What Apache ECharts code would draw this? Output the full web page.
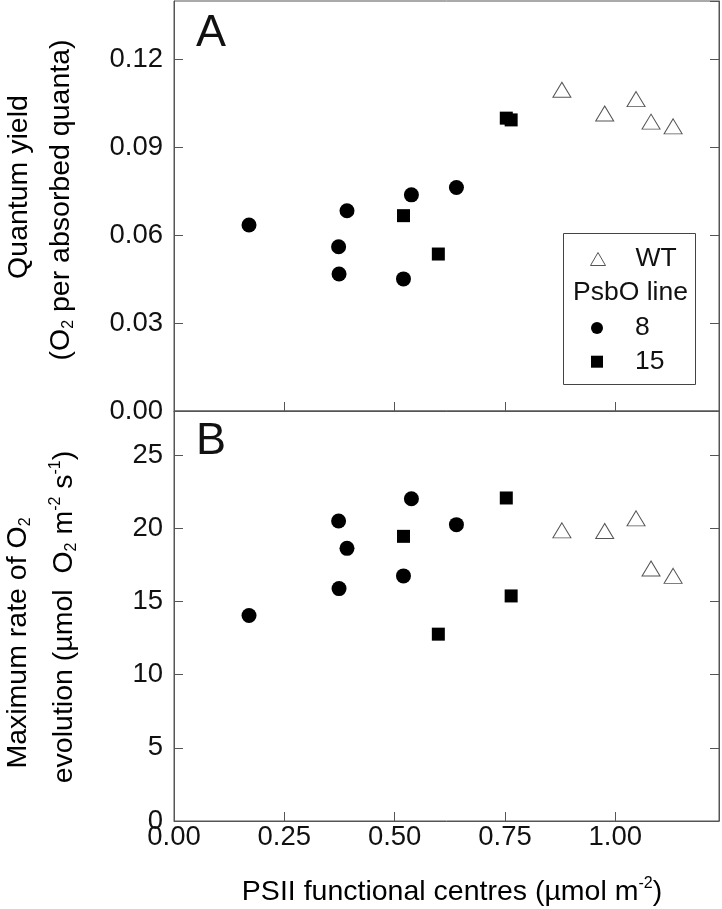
<!DOCTYPE html>
<html><head><meta charset="utf-8">
<script src="https://cdn.jsdelivr.net/npm/echarts@6/dist/echarts.min.js"></script>
<style>html,body{margin:0;padding:0;background:#fff}#c{width:722px;height:909px}</style>
</head><body><div id="c"></div>
<script>
// ---- data ----
const xTickLabels = ['0.00', '0.25', '0.50', '0.75', '1.00'];
const yTickLabelsA = ['0.00', '0.03', '0.06', '0.09', '0.12'];
const yTickLabelsB = ['0', '5', '10', '15', '20', '25'];

// PSII functional centres (µmol m-2)
const xWT = [0.879, 0.976, 1.047, 1.081, 1.131];
const x8  = [0.170, 0.373, 0.374, 0.392, 0.520, 0.538, 0.640];
const x15 = [0.520, 0.599, 0.753, 0.764];

// Panel A: quantum yield
const qyWT = [0.1097, 0.1016, 0.1065, 0.0988, 0.0972];
const qy8  = [0.0635, 0.0561, 0.0468, 0.0684, 0.0451, 0.0738, 0.0763];
const qy15 = [0.0667, 0.0536, 0.1000, 0.0994];

// Panel B: maximum rate of O2 evolution
const rateWT = [19.85, 19.80, 20.67, 17.24, 16.74];
const rate8  = [14.03, 20.49, 15.87, 18.62, 16.74, 22.01, 20.24];
const rate15 = [19.44, 12.76, 22.06, 15.37];

// ---- chart ----
const FONT = "'Liberation Sans', Arial, Helvetica, sans-serif";
const AX = '#555';
const TXT = '#111';
const zip = (xs, ys) => xs.map((x, i) => [x, ys[i]]);
const pick = (labels, step) => v => {
  const i = Math.round(v / step);
  return (Math.abs(v - i * step) < 1e-9 && labels[i] !== undefined) ? labels[i] : '';
};

const axisCommon = {
  axisLine: { show: true, lineStyle: { color: AX, width: 1 } },
  axisTick: { show: true, inside: true, length: 9, lineStyle: { color: AX, width: 1 } },
  splitLine: { show: false }
};
const labelStyle = { fontFamily: FONT, fontSize: 27.5, color: TXT };

const rich = {
  n: { fontFamily: FONT, fontSize: 28.5, color: TXT, lineHeight: 32 },
  sub: { fontFamily: FONT, fontSize: 16, color: TXT, lineHeight: 10, verticalAlign: 'bottom' },
  sup: { fontFamily: FONT, fontSize: 16, color: TXT, lineHeight: 12, verticalAlign: 'top' }
};

const wtStyle = { color: '#fff', borderColor: '#555', borderWidth: 1, opacity: 1 };
const blk = { color: '#000', opacity: 1 };

function seriesFor(xi, yi, ysWT, ys8, ys15) {
  return [
    { name: 'WT', type: 'scatter', xAxisIndex: xi, yAxisIndex: yi, symbol: 'triangle', symbolSize: [18, 15],
      itemStyle: wtStyle, data: zip(xWT, ysWT) },
    { name: '8', type: 'scatter', xAxisIndex: xi, yAxisIndex: yi, symbol: 'circle', symbolSize: 15,
      itemStyle: blk, data: zip(x8, ys8) },
    { name: '15', type: 'scatter', xAxisIndex: xi, yAxisIndex: yi, symbol: 'rect', symbolSize: 13,
      itemStyle: blk, data: zip(x15, ys15) }
  ];
}

const option = {
  animation: false,
  backgroundColor: '#fff',
  grid: [
    { left: 174, top: 1, width: 545, height: 410, show: true, borderColor: AX, borderWidth: 1, backgroundColor: 'transparent' },
    { left: 174, top: 411, width: 545, height: 410, show: true, borderColor: AX, borderWidth: 1, backgroundColor: 'transparent' }
  ],
  xAxis: [
    Object.assign({ gridIndex: 0, type: 'value', min: 0, max: 1.235, interval: 0.25, position: 'bottom',
      axisLabel: { show: false } }, axisCommon),
    Object.assign({ gridIndex: 1, type: 'value', min: 0, max: 1.235, interval: 0.25, position: 'bottom',
      axisLabel: Object.assign({ show: true, margin: 2, showMaxLabel: false, formatter: pick(xTickLabels, 0.25) }, labelStyle) }, axisCommon)
  ],
  yAxis: [
    Object.assign({ gridIndex: 0, type: 'value', min: 0, max: 0.14, interval: 0.03, position: 'left',
      axisLabel: Object.assign({ show: true, margin: 11, showMaxLabel: false, formatter: pick(yTickLabelsA, 0.03) }, labelStyle) }, axisCommon),
    Object.assign({ gridIndex: 0, type: 'value', min: 0, max: 0.14, interval: 0.03, position: 'right',
      axisLabel: { show: false } }, axisCommon),
    Object.assign({ gridIndex: 1, type: 'value', min: 0, max: 28, interval: 5, position: 'left',
      axisLabel: Object.assign({ show: true, margin: 11, showMaxLabel: false, formatter: pick(yTickLabelsB, 5) }, labelStyle) }, axisCommon),
    Object.assign({ gridIndex: 1, type: 'value', min: 0, max: 28, interval: 5, position: 'right',
      axisLabel: { show: false } }, axisCommon)
  ],
  legend: [
    { data: [{ name: 'WT', icon: 'triangle', itemStyle: wtStyle }],
      left: 590, top: 244, padding: 0, itemWidth: 15, itemHeight: 13, selectedMode: false,
      textStyle: { fontFamily: FONT, fontSize: 26.5, color: TXT, lineHeight: 30, padding: [0, 0, 0, 25] } },
    { data: [{ name: '8', icon: 'circle', itemStyle: blk }, { name: '15', icon: 'rect', itemStyle: blk }],
      orient: 'vertical', left: 591, top: 313, padding: 0, itemWidth: 12, itemHeight: 12, itemGap: 3.7, selectedMode: false,
      textStyle: { fontFamily: FONT, fontSize: 26.5, color: TXT, lineHeight: 30, padding: [0, 0, 0, 27] } }
  ],
  graphic: [
    { type: 'rect', shape: { x: 563.5, y: 233.5, width: 132, height: 151 },
      style: { fill: 'none', stroke: '#444', lineWidth: 1 }, z: 10 },
    { type: 'text', x: 630.5, y: 293, z: 10,
      style: { text: 'PsbO line', fontFamily: FONT, fontSize: 26.5, fill: TXT, align: 'center', verticalAlign: 'middle' } },
    { type: 'text', x: 196, y: 34, z: 10,
      style: { text: 'A', fontFamily: FONT, fontSize: 45, fill: TXT, align: 'left', verticalAlign: 'middle' } },
    { type: 'text', x: 196, y: 442, z: 10,
      style: { text: 'B', fontFamily: FONT, fontSize: 45, fill: TXT, align: 'left', verticalAlign: 'middle' } },
    { type: 'text', x: 452, y: 892, z: 10,
      style: { text: '{n|PSII functional centres (µmol m}{sup|-2}{n|)}', rich: rich, align: 'center', verticalAlign: 'middle' } },
    { type: 'text', x: 19, y: 187, rotation: Math.PI / 2, z: 10,
      style: { text: '{n|Quantum yield}', rich: rich, align: 'center', verticalAlign: 'middle' } },
    { type: 'text', x: 61, y: 200, rotation: Math.PI / 2, z: 10,
      style: { text: '{n|(O}{sub|2}{n| per absorbed quanta)}', rich: rich, align: 'center', verticalAlign: 'middle' } },
    { type: 'text', x: 18, y: 643, rotation: Math.PI / 2, z: 10,
      style: { text: '{n|Maximum rate of O}{sub|2}', rich: rich, align: 'center', verticalAlign: 'middle' } },
    { type: 'text', x: 64, y: 617, rotation: Math.PI / 2, z: 10,
      style: { text: '{n|evolution (µmol  O}{sub|2}{n| m}{sup|-2}{n| s}{sup|-1}{n|)}', rich: rich, align: 'center', verticalAlign: 'middle' } }
  ],
  series: [].concat(
    seriesFor(0, 0, qyWT, qy8, qy15),
    seriesFor(1, 2, rateWT, rate8, rate15)
  )
};

const chart = echarts.init(document.getElementById('c'), null, { renderer: 'canvas' });
chart.setOption(option);
</script>
</body></html>
